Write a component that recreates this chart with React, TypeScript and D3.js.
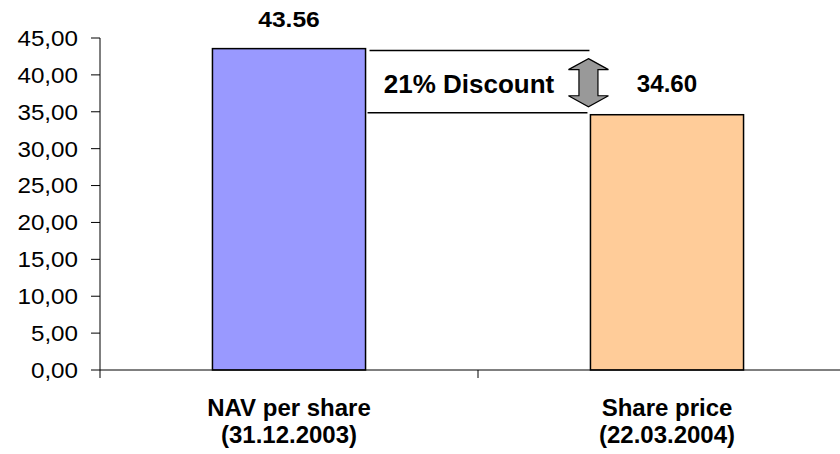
import React from "react";
import * as d3 from "d3";

const categories = ["NAV per share|(31.12.2003)", "Share price|(22.03.2004)"];
const values = [43.56, 34.6];
const valueLabels = ["43.56", "34.60"];
const barColors = ["#9999FF", "#FFCC99"];
const yTicks = [0, 5, 10, 15, 20, 25, 30, 35, 40, 45];
const discountLabel = "21% Discount";

const W = 840;
const H = 454;
const FONT = "'Liberation Sans', Arial, Helvetica, sans-serif";

export default function App() {
  const y = d3.scaleLinear().domain([0, 45]).range([370, 38]);
  const x = d3
    .scaleBand<string>()
    .domain(categories)
    .range([100, 856])
    .paddingInner(0.595)
    .paddingOuter(0.2975);
  const step = x.step();
  const fmt = (v: number) => d3.format(".2f")(v).replace(".", ",");

  const x0 = x(categories[0])! + x.bandwidth();
  const x1 = x(categories[1])!;
  const yTop = y(values[0]) + 2;
  const yBot = y(values[1]) - 2;
  const ax = x1 - 2;
  const a1 = yTop + 8;
  const a2 = yBot - 6;
  const hw = 20;
  const sw = 9.5;
  const hh = 11;
  const arrow = [
    [ax, a1],
    [ax + hw, a1 + hh],
    [ax + sw, a1 + hh],
    [ax + sw, a2 - hh],
    [ax + hw, a2 - hh],
    [ax, a2],
    [ax - hw, a2 - hh],
    [ax - sw, a2 - hh],
    [ax - sw, a1 + hh],
    [ax - hw, a1 + hh],
  ];
  const arrowPath = d3.line()(arrow as [number, number][]) + "Z";

  return (
    <svg
      width={W}
      height={H}
      style={{ position: "fixed", left: 0, top: 0, background: "#fff" }}
      fontFamily={FONT}
    >
      {/* value axis */}
      <line x1={100} x2={100} y1={y(45)} y2={y(0)} stroke="#000" strokeWidth={1} />
      {yTicks.map((t) => (
        <g key={t}>
          <line x1={91} x2={100} y1={y(t)} y2={y(t)} stroke="#000" strokeWidth={1} />
          <text
            transform={`translate(78,${y(t)}) scale(1.1,1)`}
            textAnchor="end"
            dy="0.36em"
            fontSize={22}
            fill="#000"
          >
            {fmt(t)}
          </text>
        </g>
      ))}

      {/* bars */}
      {categories.map((c, i) => (
        <rect
          key={c}
          x={x(c)}
          y={y(values[i])}
          width={x.bandwidth()}
          height={y(0) - y(values[i])}
          fill={barColors[i]}
          stroke="#000"
          strokeWidth={1.5}
        />
      ))}

      {/* category axis */}
      <line x1={100} x2={W} y1={y(0)} y2={y(0)} stroke="#000" strokeWidth={1} />
      {[0, 1, 2].map((k) => (
        <line
          key={k}
          x1={100 + k * step}
          x2={100 + k * step}
          y1={y(0)}
          y2={y(0) + 8}
          stroke="#000"
          strokeWidth={1}
        />
      ))}
      {categories.map((c) => {
        const cx = x(c)! + x.bandwidth() / 2;
        const [l1, l2] = c.split("|");
        return (
          <g key={c}>
            <text x={cx} y={416} textAnchor="middle" fontSize={24} fontWeight="bold">
              {l1}
            </text>
            <text x={cx} y={443} textAnchor="middle" fontSize={24} fontWeight="bold">
              {l2}
            </text>
          </g>
        );
      })}

      {/* value labels */}
      <text
        transform={`translate(${x(categories[0])! + x.bandwidth() / 2},27) scale(1.12,1)`}
        textAnchor="middle"
        fontSize={22}
        fontWeight="bold"
      >
        {valueLabels[0]}
      </text>
      <text
        transform={`translate(${x(categories[1])! + x.bandwidth() / 2},92) scale(1.05,1)`}
        textAnchor="middle"
        fontSize={23}
        fontWeight="bold"
      >
        {valueLabels[1]}
      </text>

      {/* discount annotation */}
      <line x1={x0 + 4} x2={x1 - 1} y1={yTop} y2={yTop} stroke="#000" strokeWidth={1.5} />
      <line x1={x0 + 2} x2={x1 - 3} y1={yBot} y2={yBot} stroke="#000" strokeWidth={1.5} />
      <path d={arrowPath} fill="#999999" stroke="#000" strokeWidth={1.2} strokeLinejoin="miter" />
      <text x={469} y={93} textAnchor="middle" fontSize={26} fontWeight="bold">
        {discountLabel}
      </text>
    </svg>
  );
}
